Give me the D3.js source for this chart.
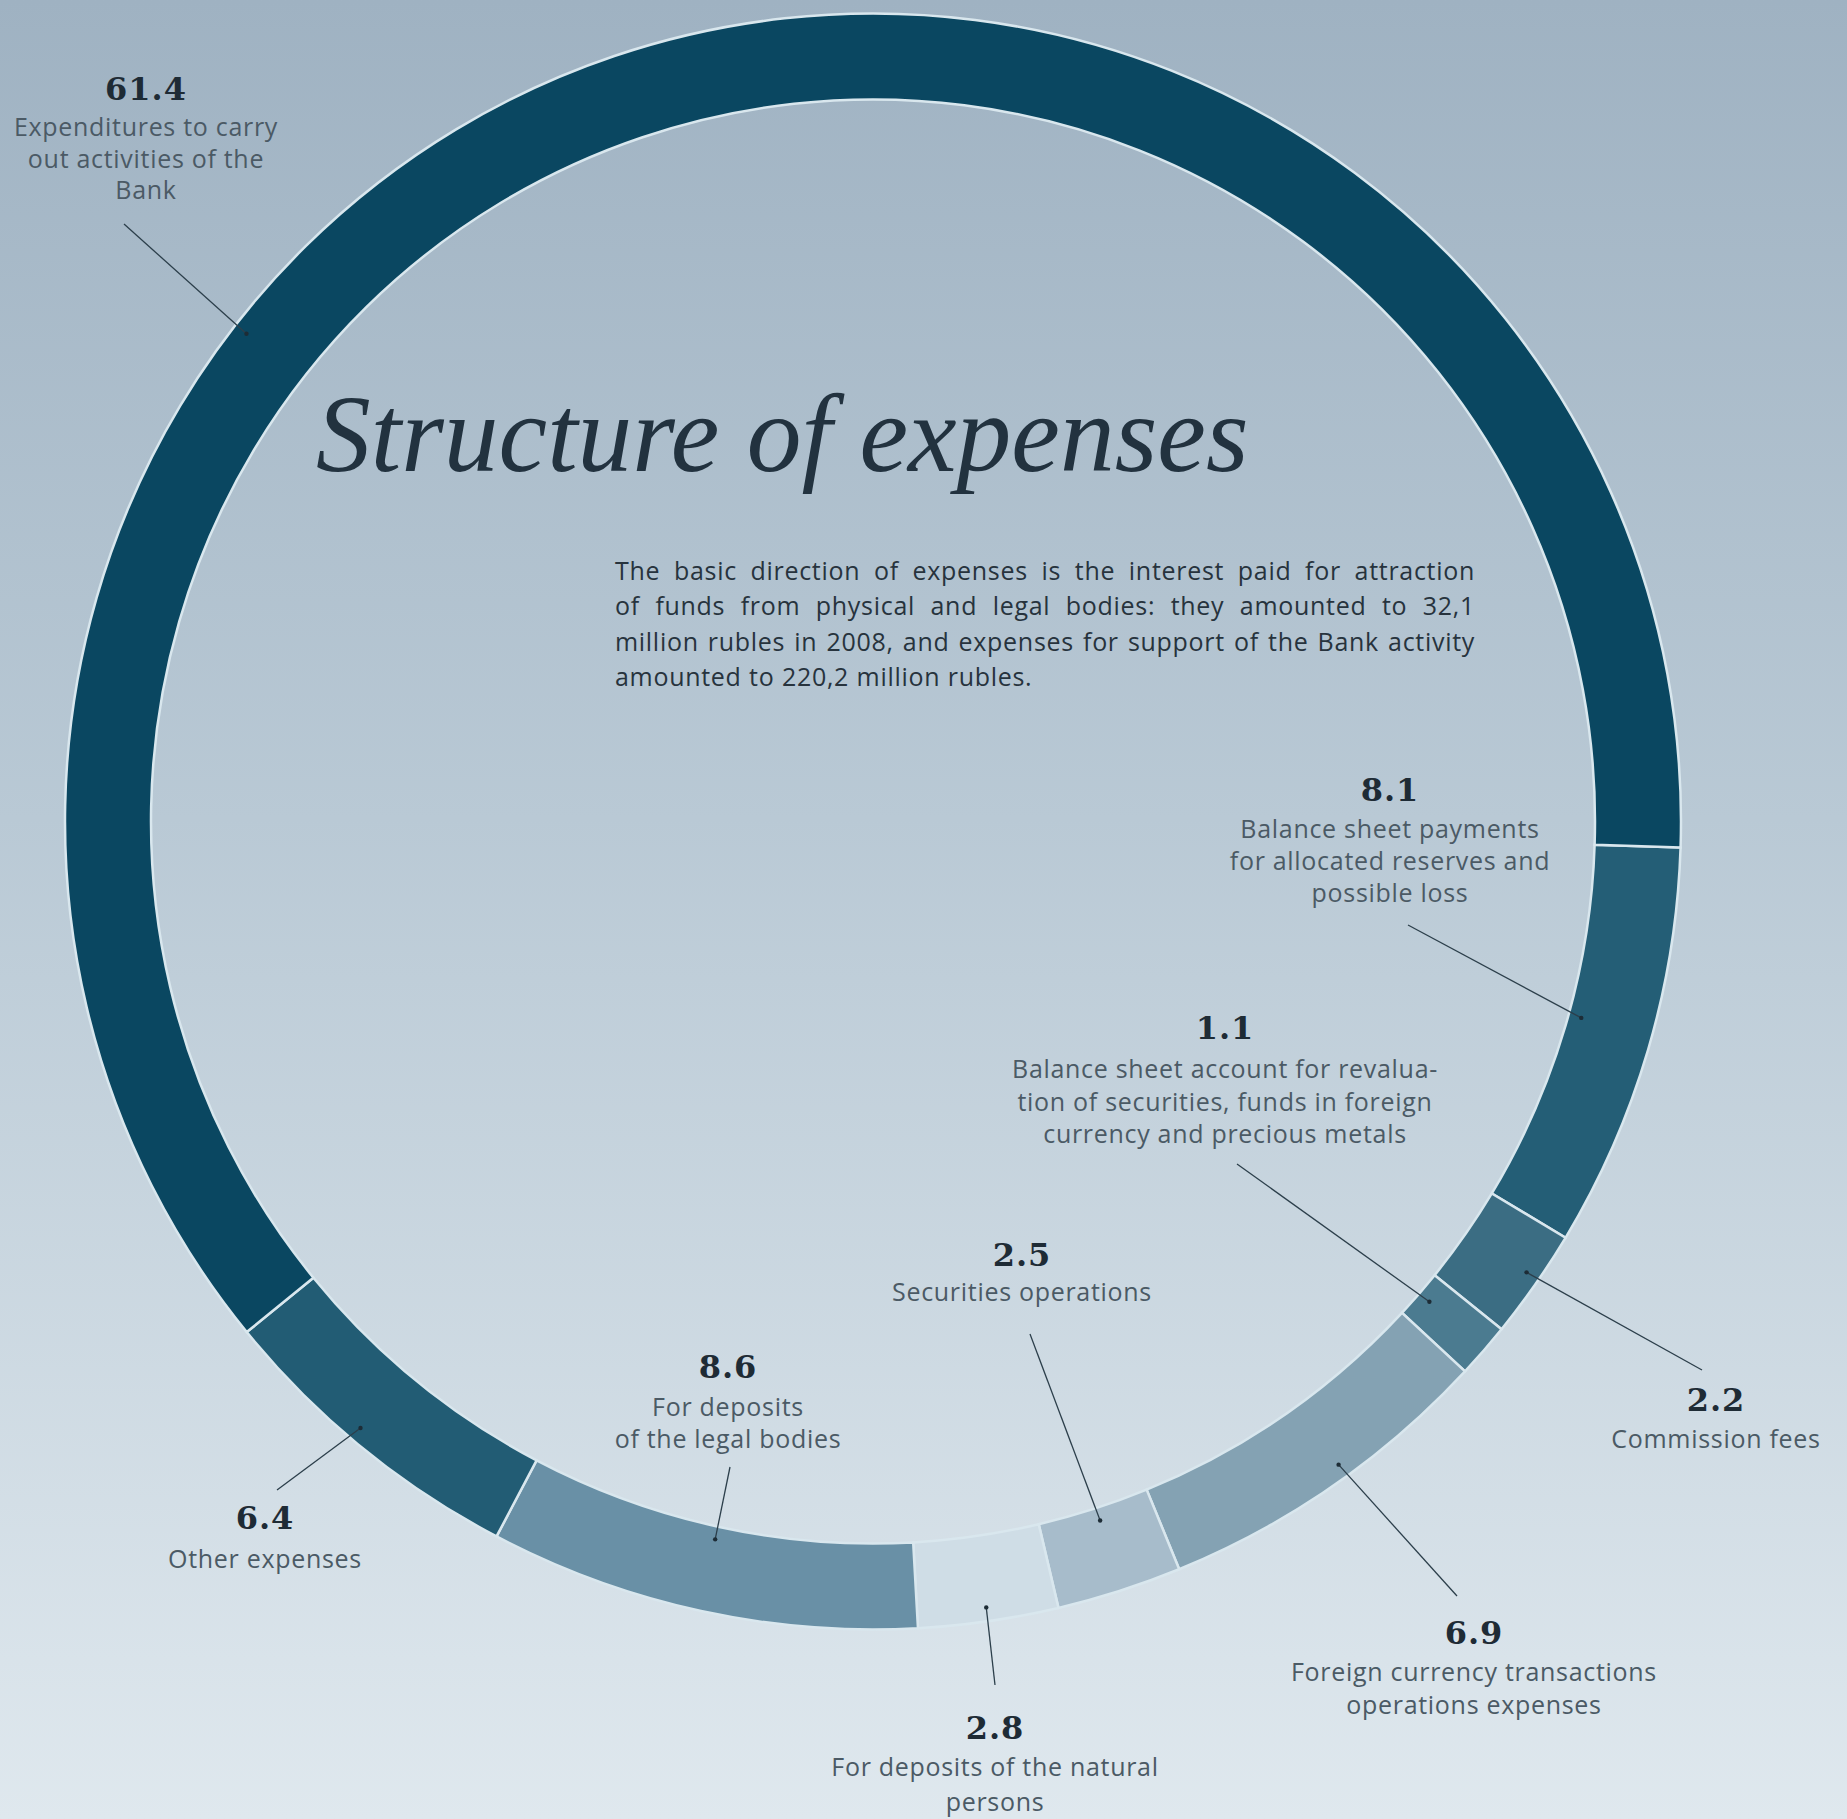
<!DOCTYPE html>
<html><head><meta charset="utf-8">
<script src="https://cdn.jsdelivr.net/npm/d3@7"></script>
<style>
html,body{margin:0;padding:0;background:#bccbd7;}
svg{display:block;}
</style></head>
<body>
<script>
// ---- data ----
const categories = [
  "Balance sheet payments for allocated reserves and possible loss",
  "Commission fees",
  "Balance sheet account for revaluation of securities, funds in foreign currency and precious metals",
  "Foreign currency transactions operations expenses",
  "Securities operations",
  "For deposits of the natural persons",
  "For deposits of the legal bodies",
  "Other expenses",
  "Expenditures to carry out activities of the Bank"
];
const values = [8.1, 2.2, 1.1, 6.9, 2.5, 2.8, 8.6, 6.4, 61.4];
const valueLabels = ["8.1", "2.2", "1.1", "6.9", "2.5", "2.8", "8.6", "6.4", "61.4"];
const labelLines = [
  ["Balance sheet payments", "for allocated reserves and", "possible loss"],
  ["Commission fees"],
  ["Balance sheet account for revalua-", "tion of securities, funds in foreign", "currency and precious metals"],
  ["Foreign currency transactions", "operations expenses"],
  ["Securities operations"],
  ["For deposits of the natural", "persons"],
  ["For deposits", "of the legal bodies"],
  ["Other expenses"],
  ["Expenditures to carry", "out activities of the", "Bank"]
];
const title = "Structure of expenses";
const paragraph = [
  "The basic direction of expenses is the interest paid for attraction",
  "of funds from physical and legal bodies: they amounted to 32,1",
  "million rubles in 2008, and expenses for support of the Bank activity",
  "amounted to 220,2 million rubles."
];

// ---- layout / style ----
const W = 1847, H = 1819;
const cx = 873, cy = 821.5, rOuter = 808, rInner = 722;
const startDeg = 91.85;
const colors = ["#245e76", "#3b6d83", "#4b7b90", "#84a2b3", "#a7bccb", "#cfdde6", "#6990a6", "#225c74", "#0a4761"];
const layout = [
  {x:1390, ny:801,  ly:838,  lh:32, sx:1408, sy:925,  ang:105.5, inside:true},
  {x:1716, ny:1411, ly:1448, lh:32, sx:1702, sy:1370, ang:124.6, inside:false},
  {x:1225, ny:1039, ly:1078, lh:32.5, sx:1237, sy:1164, ang:130.8, inside:true},
  {x:1474, ny:1644, ly:1681, lh:33, sx:1457, sy:1596, ang:144.1, inside:false},
  {x:1022, ny:1266, ly:1301, lh:32, sx:1030, sy:1334, ang:162.0, inside:true},
  {x:995,  ny:1739, ly:1776, lh:35, sx:995,  sy:1685, ang:171.8, inside:false},
  {x:728,  ny:1378, ly:1416, lh:32, sx:730,  sy:1467, ang:192.4, inside:true},
  {x:265,  ny:1529, ly:1568, lh:32, sx:277,  sy:1490, ang:220.2, inside:false},
  {x:146,  ny:100,  ly:136,  lh:31.5, sx:124, sy:224, ang:307.9, inside:false}
];

const svg = d3.select("body").append("svg").attr("width", W).attr("height", H);
const defs = svg.append("defs");
const grad = defs.append("linearGradient").attr("id","bg").attr("x1",0).attr("y1",0).attr("x2",0).attr("y2",1);
grad.append("stop").attr("offset","0%").attr("stop-color","#9fb2c2");
grad.append("stop").attr("offset","45%").attr("stop-color","#b9c9d5");
grad.append("stop").attr("offset","100%").attr("stop-color","#dfe8ee");
svg.append("rect").attr("width",W).attr("height",H).attr("fill","url(#bg)");

const toRad = d => d * Math.PI / 180;
const pie = d3.pie().sort(null).value(d => d)
  .startAngle(toRad(startDeg)).endAngle(toRad(startDeg) + 2*Math.PI);
const arcs = pie(values);
const arc = d3.arc().innerRadius(rInner).outerRadius(rOuter);

const g = svg.append("g").attr("transform", `translate(${cx},${cy})`);
g.selectAll("path.seg").data(arcs).join("path")
  .attr("class","seg")
  .attr("d", arc)
  .attr("fill", (d,i) => colors[i])
  .attr("stroke", "#d9e7ee")
  .attr("stroke-width", 2.5)
  .attr("stroke-linejoin","miter");

// title
svg.append("text")
  .attr("x", 316).attr("y", 471)
  .attr("font-family", "'Liberation Serif', serif")
  .attr("font-style", "italic")
  .attr("font-size", 109.5)
  .attr("fill", "#22323f")
  .text(title);

// justified paragraph
const pX0 = 615, pX1 = 1475, pY0 = 580, pLH = 35.3;
paragraph.forEach((line, li) => {
  const words = line.split(" ");
  const t = svg.append("text")
    .attr("font-family", "'Open Sans', sans-serif")
    .attr("font-size", 25)
    .attr("letter-spacing", 0.7)
    .attr("fill", "#27333d")
    .attr("y", pY0 + li * pLH);
  const spans = words.map(w => t.append("tspan").text(w));
  const widths = spans.map(s => s.node().getComputedTextLength());
  const total = d3.sum(widths);
  const justify = li < paragraph.length - 1;
  const gap = justify ? (pX1 - pX0 - total) / (words.length - 1) : 7.5;
  let x = pX0;
  spans.forEach((s, i) => { s.attr("x", x); x += widths[i] + gap; });
});

// leaders
const leaderEnd = (L) => {
  const r = L.inside ? rInner + 13 : rOuter - 14;
  const a = toRad(L.ang);
  return [cx + r * Math.sin(a), cy - r * Math.cos(a)];
};
layout.forEach((L, i) => {
  const [ex, ey] = leaderEnd(L);
  svg.append("line")
    .attr("x1", L.sx).attr("y1", L.sy).attr("x2", ex).attr("y2", ey)
    .attr("stroke", "#2c3f4b").attr("stroke-width", 1.3);
  svg.append("circle").attr("cx", ex).attr("cy", ey).attr("r", 2.2).attr("fill", "#1d2c36");
});

// labels
layout.forEach((L, i) => {
  svg.append("text")
    .attr("x", L.x).attr("y", L.ny)
    .attr("text-anchor", "middle")
    .attr("font-family", "'DejaVu Serif', serif")
    .attr("font-weight", "bold")
    .attr("font-size", 32)
    .attr("letter-spacing", 1)
    .attr("fill", "#1e2b35")
    .text(valueLabels[i]);
  labelLines[i].forEach((ln, j) => {
    svg.append("text")
      .attr("x", L.x).attr("y", L.ly + j * L.lh)
      .attr("text-anchor", "middle")
      .attr("font-family", "'Open Sans', sans-serif")
      .attr("font-size", 25)
      .attr("letter-spacing", 0.7)
      .attr("fill", "#4b5a65")
      .text(ln);
  });
});
</script>
</body></html>
